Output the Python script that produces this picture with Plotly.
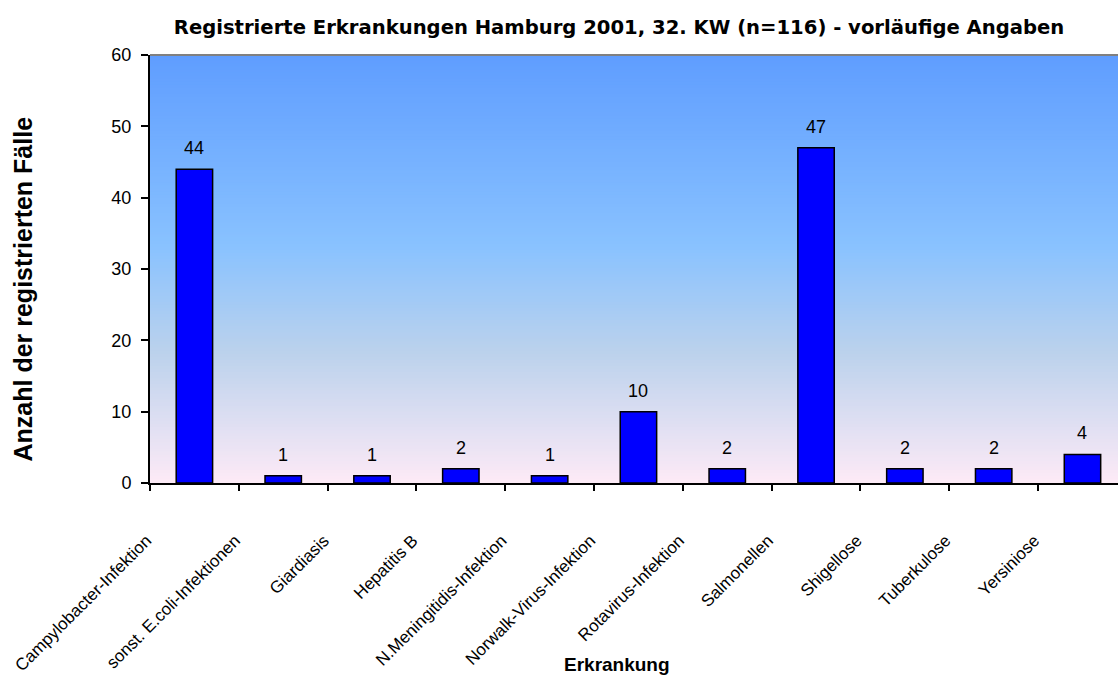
import plotly.graph_objects as go

categories = ["Campylobacter-Infektion", "sonst. E.coli-Infektionen", "Giardiasis", "Hepatitis B",
              "N.Meningitidis-Infektion", "Norwalk-Virus-Infektion", "Rotavirus-Infektion",
              "Salmonellen", "Shigellose", "Tuberkulose", "Yersiniose"]
values = [44, 1, 1, 2, 1, 10, 2, 47, 2, 2, 4]
y_ticks = [0, 10, 20, 30, 40, 50, 60]

title_text = "Registrierte Erkrankungen Hamburg 2001, 32. KW (n=116) - vorläufige Angaben"
x_title = "Erkrankung"
y_title = "Anzahl der registrierten Fälle"

FONT = "Liberation Sans, Arial, sans-serif"
TITLE_FONT = "DejaVu Sans, Liberation Sans, sans-serif"

# background gradient stops (position from top, rgb)
stops = [(0.0, (95, 157, 255)), (0.45, (137, 194, 255)), (0.7, (188, 210, 236)),
         (0.85, (220, 222, 242)), (1.0, (253, 234, 246))]


def grad_color(t):
    for (p0, c0), (p1, c1) in zip(stops[:-1], stops[1:]):
        if p0 <= t <= p1:
            f = (t - p0) / (p1 - p0)
            return "rgb(%d,%d,%d)" % tuple(round(a + (b - a) * f) for a, b in zip(c0, c1))
    return "rgb(%d,%d,%d)" % stops[-1][1]


shapes = []
N = 140
for i in range(N):
    t = (i + 0.5) / N
    shapes.append(dict(type="rect", xref="paper", yref="paper", x0=0, x1=1,
                       y0=1 - (i + 1) / N, y1=1 - i / N + 0.002,
                       fillcolor=grad_color(t), line=dict(width=0), layer="below"))
# top border
shapes.append(dict(type="line", xref="paper", yref="paper", x0=0, x1=1, y0=1, y1=1,
                   line=dict(color="#808080", width=2), layer="above"))

fig = go.Figure()
fig.add_trace(go.Bar(
    x=categories, y=values, width=0.41,
    marker=dict(color="#0000FF", line=dict(color="black", width=1.5)),
    hoverinfo="x+y", showlegend=False,
))

annotations = []
for c, v in zip(categories, values):
    annotations.append(dict(x=c, y=v, xref="x", yref="y", text=str(v), showarrow=False,
                            yanchor="bottom", yshift=9,
                            font=dict(family=FONT, size=18, color="black")))

annotations.append(dict(x=(617 - 150) / 968, y=(483 - 664) / 428, xref="paper", yref="paper",
                        text="<b>%s</b>" % x_title, showarrow=False,
                        xanchor="center", yanchor="middle",
                        font=dict(family=FONT, size=19, color="black")))
annotations.append(dict(x=(22 - 150) / 968, y=(483 - 464) / 428, xref="paper", yref="paper",
                        text="<b>%s</b>" % y_title, showarrow=False, textangle=-90,
                        xanchor="center", yanchor="bottom",
                        font=dict(family=FONT, size=25, color="black")))

fig.update_layout(
    width=1118, height=677,
    margin=dict(l=150, r=0, t=55, b=194),
    paper_bgcolor="white", plot_bgcolor="white",
    font=dict(family=FONT, color="black"),
    title=dict(text="<b>%s</b>" % title_text, xref="paper", x=(619 - 150) / 968,
               xanchor="center", y=1 - 27 / 677, yanchor="middle",
               font=dict(family=TITLE_FONT, size=19.6, color="black")),
    shapes=shapes,
    annotations=annotations,
    bargap=0.59,
)

fig.update_xaxes(
    type="category", categoryorder="array", categoryarray=categories,
    range=[-0.5, 10.4], tickson="boundaries",
    ticks="outside", ticklen=6, tickwidth=1.5, tickcolor="black",
    showline=True, linecolor="black", linewidth=2,
    showgrid=False, zeroline=False,
    tickangle=-45, ticklabelshift=-48, ticklabelstandoff=39,
    tickfont=dict(family=FONT, size=17, color="black"),
)
fig.update_yaxes(
    range=[0, 60], tickvals=y_ticks,
    ticks="outside", ticklen=7, tickwidth=1.5, tickcolor="black",
    showline=True, linecolor="black", linewidth=2,
    showgrid=False, zeroline=False,
    ticklabelstandoff=6,
    tickfont=dict(family=FONT, size=18, color="black"),
)

fig.write_html("out.html", config={"displayModeBar": False},
               post_script="document.body.style.margin='0';document.body.style.overflow='hidden';")
